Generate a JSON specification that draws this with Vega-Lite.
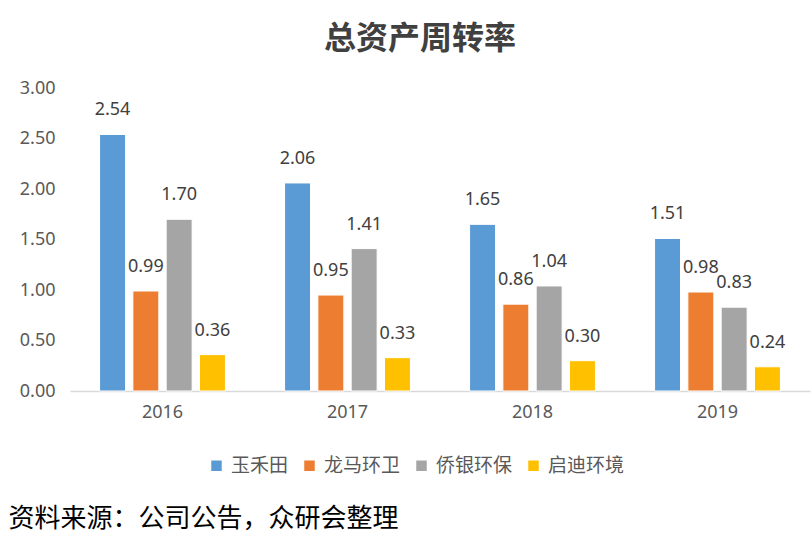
{
  "$schema": "https://vega.github.io/schema/vega-lite/v6.json",
  "autosize": "none",
  "width": 740,
  "height": 303,
  "padding": {"left": 70, "top": 88, "right": 2, "bottom": 151},
  "background": "white",
  "config": {"view": {"stroke": null}},
  "title": {
    "text": "总资产周转率",
    "font": "Noto Sans CJK SC",
    "fontSize": 32,
    "fontWeight": "bold",
    "color": "#404040",
    "anchor": "middle",
    "dx": -20,
    "offset": 23
  },
  "data": {
    "values": [
      {"year": "2016", "company": "玉禾田", "value": 2.54},
      {"year": "2016", "company": "龙马环卫", "value": 0.99},
      {"year": "2016", "company": "侨银环保", "value": 1.70},
      {"year": "2016", "company": "启迪环境", "value": 0.36},
      {"year": "2017", "company": "玉禾田", "value": 2.06},
      {"year": "2017", "company": "龙马环卫", "value": 0.95},
      {"year": "2017", "company": "侨银环保", "value": 1.41},
      {"year": "2017", "company": "启迪环境", "value": 0.33},
      {"year": "2018", "company": "玉禾田", "value": 1.65},
      {"year": "2018", "company": "龙马环卫", "value": 0.86},
      {"year": "2018", "company": "侨银环保", "value": 1.04},
      {"year": "2018", "company": "启迪环境", "value": 0.30},
      {"year": "2019", "company": "玉禾田", "value": 1.51},
      {"year": "2019", "company": "龙马环卫", "value": 0.98},
      {"year": "2019", "company": "侨银环保", "value": 0.83},
      {"year": "2019", "company": "启迪环境", "value": 0.24}
    ]
  },
  "encoding": {
    "x": {
      "field": "year",
      "type": "nominal",
      "scale": {"paddingInner": 0.28, "paddingOuter": 0.14},
      "axis": {
        "labelAngle": 0,
        "labelFont": "Noto Sans",
        "labelFontSize": 18,
        "labelColor": "#595959",
        "labelPadding": 12,
        "ticks": false,
        "domainColor": "#D9D9D9",
        "domainWidth": 1.5,
        "title": "资料来源：公司公告，众研会整理",
        "titleFont": "Noto Sans CJK SC",
        "titleFontSize": 26,
        "titleFontWeight": "normal",
        "titleColor": "#000000",
        "titleAnchor": "start",
        "titleAlign": "left",
        "titleBaseline": "middle",
        "titleX": -62,
        "titleY": 127
      }
    },
    "xOffset": {
      "field": "company",
      "type": "nominal",
      "scale": {"domain": ["玉禾田", "龙马环卫", "侨银环保", "启迪环境"], "paddingInner": 0.22, "paddingOuter": 0.11}
    },
    "y": {
      "field": "value",
      "type": "quantitative",
      "scale": {"domain": [0, 3]},
      "axis": {
        "values": [0, 0.5, 1, 1.5, 2, 2.5, 3],
        "format": ".2f",
        "title": null,
        "grid": false,
        "domain": false,
        "ticks": false,
        "labelFont": "Noto Sans",
        "labelFontSize": 18,
        "labelColor": "#595959",
        "labelPadding": 15
      }
    }
  },
  "layer": [
    {
      "mark": {"type": "bar", "stroke": "white", "strokeWidth": 1},
      "encoding": {
        "color": {
          "field": "company",
          "type": "nominal",
          "scale": {
            "domain": ["玉禾田", "龙马环卫", "侨银环保", "启迪环境"],
            "range": ["#5B9BD5", "#ED7D31", "#A5A5A5", "#FFC000"]
          },
          "legend": {
            "title": null,
            "orient": "none",
            "direction": "horizontal",
            "legendX": 137,
            "legendY": 368,
            "symbolType": "square",
            "symbolSize": 110,
            "symbolStrokeWidth": 0,
            "labelFont": "Noto Sans CJK SC",
            "labelFontSize": 19,
            "labelColor": "#595959",
            "labelOffset": 5,
            "columnPadding": 11
          }
        }
      }
    },
    {
      "mark": {"type": "text", "baseline": "alphabetic", "dy": -19, "font": "Noto Sans", "fontSize": 18, "color": "#404040"},
      "encoding": {
        "text": {"field": "value", "type": "quantitative", "format": ".2f"}
      }
    }
  ]
}
